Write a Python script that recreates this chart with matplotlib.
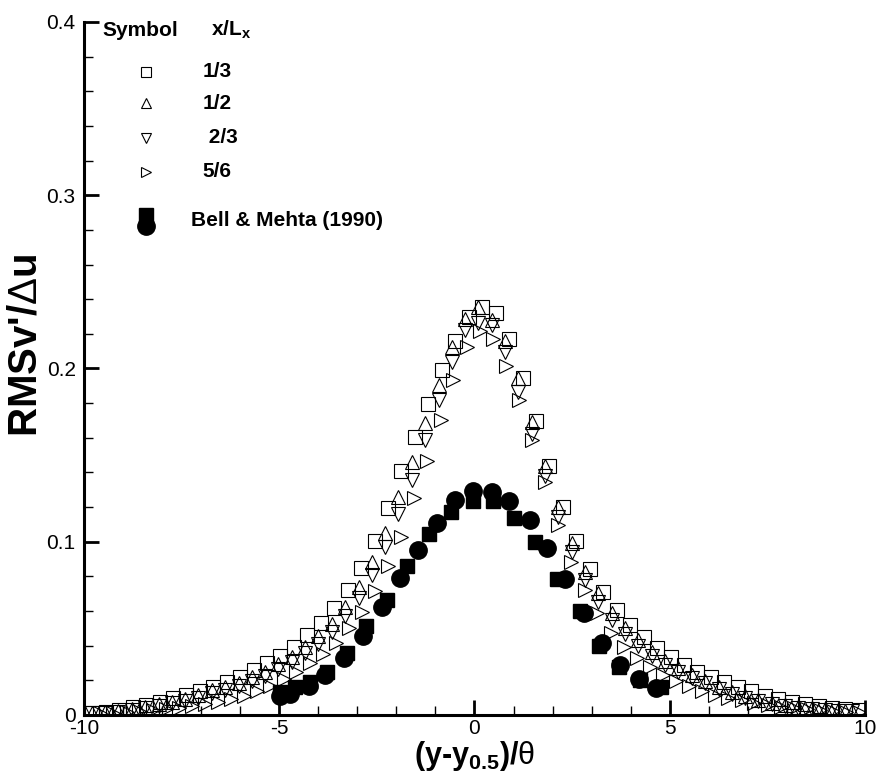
import matplotlib
matplotlib.use('Agg')
import matplotlib.pyplot as plt
from matplotlib.ticker import MultipleLocator, FixedLocator

plt.rcParams['font.family'] = ['Liberation Sans', 'DejaVu Sans']
plt.rcParams['axes.unicode_minus'] = False
plt.rcParams['mathtext.fontset'] = 'custom'
plt.rcParams['mathtext.rm'] = 'Liberation Sans'
plt.rcParams['mathtext.bf'] = 'Liberation Sans:bold'
plt.rcParams['mathtext.default'] = 'bf'

# x/Lx = 1/3 (open squares)
x_13 = [-9.79, -9.44, -9.10, -8.75, -8.41, -8.06, -7.72, -7.38, -7.03, -6.69,
        -6.34, -6.00, -5.65, -5.31, -4.97, -4.62, -4.28, -3.93, -3.59, -3.24,
        -2.90, -2.55, -2.21, -1.87, -1.52, -1.18, -0.83, -0.49, -0.14, 0.20,
        0.55, 0.89, 1.23, 1.58, 1.92, 2.27, 2.61, 2.96, 3.30, 3.64,
        3.99, 4.33, 4.68, 5.02, 5.37, 5.71, 6.05, 6.40, 6.74, 7.09,
        7.43, 7.78, 8.12, 8.46, 8.81, 9.15, 9.50, 9.84]
v_13 = [0.0013, 0.0019, 0.0029, 0.0044, 0.0058, 0.0077, 0.0096, 0.0115, 0.0140, 0.0163,
        0.0192, 0.0221, 0.0260, 0.0298, 0.0341, 0.0394, 0.0462, 0.0529, 0.0616, 0.0722,
        0.0850, 0.1004, 0.1193, 0.1410, 0.1606, 0.1795, 0.1990, 0.2160, 0.2297, 0.2353,
        0.2322, 0.2172, 0.1947, 0.1697, 0.1439, 0.1202, 0.1004, 0.0841, 0.0712, 0.0606,
        0.0520, 0.0448, 0.0385, 0.0337, 0.0290, 0.0250, 0.0221, 0.0190, 0.0163, 0.0137,
        0.0110, 0.0092, 0.0077, 0.0063, 0.0052, 0.0040, 0.0033, 0.0029]

# x/Lx = 1/2 (up triangles) and 2/3 (down triangles), same grid
x_12 = [-9.80, -9.46, -9.12, -8.78, -8.43, -8.09, -7.75, -7.41, -7.07, -6.73,
        -6.39, -6.04, -5.70, -5.36, -5.02, -4.68, -4.34, -4.00, -3.65, -3.31,
        -2.97, -2.63, -2.29, -1.95, -1.61, -1.27, -0.92, -0.58, -0.24, 0.10,
        0.44, 0.78, 1.12, 1.47, 1.81, 2.15, 2.49, 2.83, 3.17, 3.51,
        3.86, 4.20, 4.54, 4.88, 5.22, 5.56, 5.90, 6.25, 6.59, 6.93,
        7.27, 7.61, 7.95, 8.29, 8.64, 8.98, 9.32, 9.66]
v_12 = [0.0013, 0.0017, 0.0025, 0.0033, 0.0048, 0.0063, 0.0077, 0.0092, 0.0115, 0.0144,
        0.0163, 0.0186, 0.0221, 0.0250, 0.0294, 0.0337, 0.0394, 0.0455, 0.0525, 0.0625,
        0.0740, 0.0885, 0.1049, 0.1260, 0.1462, 0.1687, 0.1905, 0.2122, 0.2284, 0.2357,
        0.2280, 0.2159, 0.1943, 0.1693, 0.1440, 0.1198, 0.0995, 0.0827, 0.0702, 0.0590,
        0.0503, 0.0433, 0.0365, 0.0312, 0.0270, 0.0231, 0.0198, 0.0163, 0.0134, 0.0110,
        0.0087, 0.0071, 0.0058, 0.0048, 0.0039, 0.0033, 0.0029, 0.0025]
x_23 = x_12
v_23 = [0.0010, 0.0014, 0.0020, 0.0028, 0.0040, 0.0053, 0.0067, 0.0080, 0.0100, 0.0125,
        0.0145, 0.0168, 0.0198, 0.0226, 0.0265, 0.0305, 0.0355, 0.0412, 0.0478, 0.0570,
        0.0673, 0.0808, 0.0971, 0.1160, 0.1356, 0.1585, 0.1818, 0.2039, 0.2222, 0.2265,
        0.2251, 0.2097, 0.1866, 0.1620, 0.1380, 0.1140, 0.0940, 0.0780, 0.0655, 0.0550,
        0.0468, 0.0400, 0.0340, 0.0290, 0.0250, 0.0214, 0.0182, 0.0150, 0.0124, 0.0100,
        0.0080, 0.0065, 0.0053, 0.0043, 0.0035, 0.0029, 0.0025, 0.0022]

# x/Lx = 5/6 (right triangles)
x_56 = [-9.58, -9.25, -8.91, -8.58, -8.24, -7.91, -7.57, -7.24, -6.90, -6.57,
        -6.23, -5.90, -5.56, -5.23, -4.89, -4.56, -4.22, -3.89, -3.55, -3.22,
        -2.88, -2.55, -2.21, -1.88, -1.54, -1.21, -0.87, -0.54, -0.20, 0.14,
        0.47, 0.81, 1.14, 1.48, 1.81, 2.15, 2.48, 2.82, 3.15, 3.49,
        3.82, 4.16, 4.49, 4.83, 5.16, 5.50, 5.83, 6.17, 6.50, 6.84,
        7.17, 7.51, 7.84, 8.18, 8.51, 8.85, 9.18, 9.52, 9.85]
v_56 = [0.0010, 0.0013, 0.0017, 0.0022, 0.0028, 0.0035, 0.0043, 0.0052, 0.0062, 0.0074,
        0.0090, 0.0110, 0.0140, 0.0170, 0.0208, 0.0248, 0.0298, 0.0354, 0.0414, 0.0500,
        0.0596, 0.0717, 0.0860, 0.1029, 0.1250, 0.1468, 0.1705, 0.1934, 0.2123, 0.2218,
        0.2169, 0.2014, 0.1818, 0.1587, 0.1344, 0.1097, 0.0885, 0.0722, 0.0587, 0.0471,
        0.0394, 0.0327, 0.0279, 0.0231, 0.0195, 0.0165, 0.0140, 0.0118, 0.0100, 0.0084,
        0.0070, 0.0058, 0.0048, 0.0040, 0.0033, 0.0027, 0.0022, 0.0018, 0.0015]

# Bell & Mehta (1990), filled squares and circles
x_bm_sq = [-4.98, -4.60, -4.21, -3.78, -3.27, -2.78, -2.25, -1.72, -1.16, -0.60,
           -0.04, 0.48, 1.02, 1.55, 2.12, 2.71, 3.19, 3.71, 4.25, 4.78]
v_bm_sq = [0.0135, 0.0160, 0.0192, 0.0250, 0.0356, 0.0514, 0.0664, 0.0862, 0.1043, 0.1170,
           0.1235, 0.1235, 0.1135, 0.0997, 0.0785, 0.0600, 0.0400, 0.0279, 0.0200, 0.0160]
x_bm_ci = [-4.98, -4.72, -4.25, -3.84, -3.33, -2.85, -2.36, -1.90, -1.44, -0.95,
           -0.50, -0.03, 0.44, 0.89, 1.42, 1.86, 2.32, 2.80, 3.27, 3.73, 4.22, 4.65]
v_bm_ci = [0.0110, 0.0120, 0.0167, 0.0231, 0.0329, 0.0456, 0.0623, 0.0790, 0.0952, 0.1106,
           0.1241, 0.1295, 0.1289, 0.1237, 0.1126, 0.0962, 0.0785, 0.0587, 0.0414, 0.0289,
           0.0206, 0.0154]

fig = plt.figure(figsize=(8.84, 7.77), dpi=100)
ax = fig.add_axes([0.095, 0.0798, 0.8835, 0.8919])

open_kw = dict(ls='none', mfc='none', mec='black', mew=0.8)
ax.plot(x_13, v_13, marker='s', ms=9.5, **open_kw)
ax.plot(x_12, v_12, marker='^', ms=10, **open_kw)
ax.plot(x_23, v_23, marker='v', ms=10, **open_kw)
ax.plot(x_56, v_56, marker='>', ms=10, **open_kw)
ax.plot(x_bm_sq, v_bm_sq, ls='none', marker='s', ms=10, color='black')
ax.plot(x_bm_ci, v_bm_ci, ls='none', marker='o', ms=12.5, color='black')

ax.set_xlim(-10, 10)
ax.set_ylim(0, 0.4)
ax.xaxis.set_major_locator(FixedLocator([-10, -5, 0, 5, 10]))
ax.xaxis.set_minor_locator(MultipleLocator(1))
ax.yaxis.set_major_locator(FixedLocator([0, 0.1, 0.2, 0.3, 0.4]))
ax.yaxis.set_minor_locator(MultipleLocator(0.02))
ax.set_xticklabels(['-10', '-5', '0', '5', '10'])
ax.set_yticklabels(['0', '0.1', '0.2', '0.3', '0.4'])

ax.spines['top'].set_visible(False)
ax.spines['right'].set_visible(False)
ax.spines['left'].set_linewidth(2.2)
ax.spines['bottom'].set_linewidth(2.2)
ax.tick_params(which='major', direction='in', length=11, width=2, labelsize=15)
ax.tick_params(axis='x', which='major', pad=3)
ax.tick_params(axis='y', which='major', pad=6)
ax.tick_params(which='minor', direction='in', length=6.5, width=1)
ax.tick_params(top=False, right=False, which='both')

ax.set_xlabel(r"(y-y$_{0.5}$)/$\mathrm{\theta}$", fontsize=22, fontweight='bold', va='top')
ax.xaxis.set_label_coords(0.5, -0.034, transform=ax.transAxes)
ax.set_ylabel(r"RMSv'/$\mathrm{\Delta}$u", fontsize=29, fontweight='bold', va='center', ha='center')
ax.yaxis.set_label_coords(-0.0755, 0.534, transform=ax.transAxes)

# legend, Tecplot style
lx = 0.0794
fs = 15
ax.text(0.023, 0.988, 'Symbol', transform=ax.transAxes, fontsize=fs, fontweight='bold', va='center')
ax.text(0.163, 0.988, r'x/L$_{x}$', transform=ax.transAxes, fontsize=fs, fontweight='bold', va='center')
rows = [('s', '1/3', 0.928), ('^', '1/2', 0.883), ('v', ' 2/3', 0.833), ('>', '5/6', 0.784)]
for m, lab, yy in rows:
    ax.plot([lx], [yy], transform=ax.transAxes, marker=m, ms=7.5, clip_on=False, **open_kw)
    ax.text(0.152, yy, lab, transform=ax.transAxes, fontsize=fs, fontweight='bold', va='center')
ax.plot([lx], [0.722], transform=ax.transAxes, marker='s', ms=10, color='black', clip_on=False)
ax.plot([lx], [0.706], transform=ax.transAxes, marker='o', ms=12.5, color='black', clip_on=False)
ax.text(0.137, 0.714, 'Bell & Mehta (1990)', transform=ax.transAxes, fontsize=fs,
        fontweight='bold', va='center')

fig.savefig('out.png', dpi=100)
